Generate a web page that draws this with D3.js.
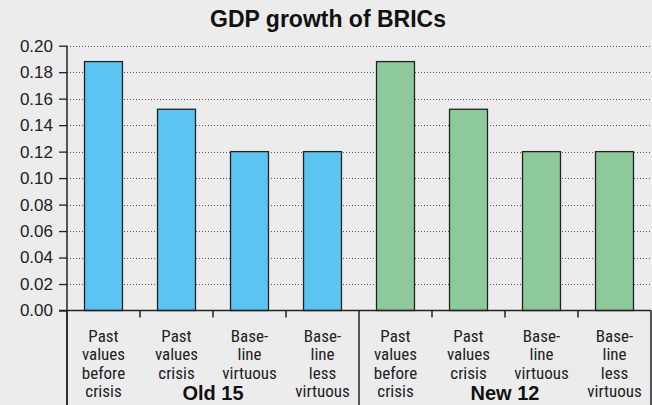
<!DOCTYPE html>
<style>
body { margin: 0; background: #ececec; }
svg { display: block; background: #ececec; }
</style>
<script src="https://d3js.org/d3.v7.min.js"></script>
<svg width="652" height="405"></svg>
<script>
// chart data
var groups = ["Old 15", "New 12"];
var scenarios = [
  ["Past", "values", "before", "crisis"],
  ["Past", "values", "crisis"],
  ["Base-", "line", "virtuous"],
  ["Base-", "line", "less", "virtuous"]
];
var old15 = [0.188, 0.152, 0.120, 0.120];
var new12 = [0.188, 0.152, 0.120, 0.120];
var yTicks = [0, 0.02, 0.04, 0.06, 0.08, 0.10, 0.12, 0.14, 0.16, 0.18, 0.20];
var colors = ["#5bc5f2", "#8dc99b"];

var svg = d3.select("svg"),
    width = +svg.attr("width"),
    height = +svg.attr("height");

var mLeft = 67, mRight = 651, mTop = 45.7, mBottom = 310.5;

var rows = [];
groups.forEach(function(g, gi) {
  var vals = gi == 0 ? old15 : new12;
  scenarios.forEach(function(s, si) {
    rows.push({group: g, gi: gi, label: s, key: g + si, value: vals[si]});
  });
});

var x = d3.scaleBand()
    .domain(rows.map(function(d) { return d.key; }))
    .range([mLeft, mRight])
    .paddingInner(0.48)
    .paddingOuter(0.24);

var y = d3.scaleLinear().domain([0, 0.2]).range([mBottom, mTop]);

var font = "'Helvetica Neue', Helvetica, 'Liberation Sans', Arial, sans-serif";

// title
svg.append("text")
   .attr("x", 328).attr("y", 27)
   .attr("text-anchor", "middle")
   .style("font-family", font)
   .style("font-weight", "bold")
   .style("font-size", "23px")
   .attr("fill", "#111")
   .text("GDP growth of BRICs");

// grid
svg.append("g").selectAll("line")
   .data(yTicks.slice(1))
   .enter().append("line")
   .attr("x1", mLeft).attr("x2", mRight)
   .attr("y1", function(d) { return Math.round(y(d)) + 0.5; })
   .attr("y2", function(d) { return Math.round(y(d)) + 0.5; })
   .attr("stroke", "#555")
   .attr("stroke-width", 1)
   .attr("stroke-dasharray", "1,2");

// y axis
var yAxis = svg.append("g")
   .attr("transform", "translate(" + mLeft + ",0)")
   .call(d3.axisLeft(y).tickValues(yTicks).tickFormat(d3.format(".2f")).tickSize(8).tickPadding(6));
yAxis.select(".domain").remove();
yAxis.selectAll("line").attr("stroke", "#222").attr("stroke-width", 1.3);
yAxis.selectAll("text")
   .style("font-family", font)
   .style("font-size", "17px")
   .attr("fill", "#222");

// bars
svg.append("g").selectAll("rect")
   .data(rows)
   .enter().append("rect")
   .attr("x", function(d) { return x(d.key); })
   .attr("y", function(d) { return y(d.value); })
   .attr("width", x.bandwidth())
   .attr("height", function(d) { return y(0) - y(d.value); })
   .attr("fill", function(d) { return colors[d.gi]; })
   .attr("stroke", "#222")
   .attr("stroke-width", 1.3);

// axis lines
svg.append("line")
   .attr("x1", mLeft - 8).attr("x2", mRight)
   .attr("y1", mBottom).attr("y2", mBottom)
   .attr("stroke", "#222").attr("stroke-width", 1.5);
svg.append("line")
   .attr("x1", mLeft).attr("x2", mLeft)
   .attr("y1", mTop).attr("y2", height)
   .attr("stroke", "#222").attr("stroke-width", 1.5);

var step = x.step();
// group boundaries
[0, 4, 8].forEach(function(i) {
  var xx = mLeft + i * step;
  svg.append("line")
     .attr("x1", xx).attr("x2", xx)
     .attr("y1", mBottom).attr("y2", height)
     .attr("stroke", "#222").attr("stroke-width", 1.5);
});
// small category ticks
[1, 2, 3, 5, 6, 7].forEach(function(i) {
  var xx = mLeft + i * step;
  svg.append("line")
     .attr("x1", xx).attr("x2", xx)
     .attr("y1", mBottom).attr("y2", mBottom + 7)
     .attr("stroke", "#222").attr("stroke-width", 1.5);
});

// category labels
var narrow = "'Liberation Sans Narrow', 'Roboto Condensed', 'Arial Narrow', sans-serif";
var lab = svg.append("g").selectAll("text")
   .data(rows)
   .enter().append("text")
   .attr("text-anchor", "middle")
   .style("font-family", narrow)
   .style("font-size", "17px")
   .attr("fill", "#222");
lab.each(function(d) {
  var t = d3.select(this);
  var cx = x(d.key) + x.bandwidth() / 2;
  d.label.forEach(function(l, li) {
    t.append("tspan").attr("x", cx).attr("y", 342 + li * 18.3).text(l);
  });
});

// group labels
svg.append("g").selectAll("text")
   .data(groups)
   .enter().append("text")
   .attr("x", function(d, i) { return mLeft + (i * 4 + 2) * step; })
   .attr("y", 400)
   .attr("text-anchor", "middle")
   .style("font-family", font)
   .style("font-weight", "bold")
   .style("font-size", "20px")
   .attr("fill", "#111")
   .text(function(d) { return d; });
</script>
